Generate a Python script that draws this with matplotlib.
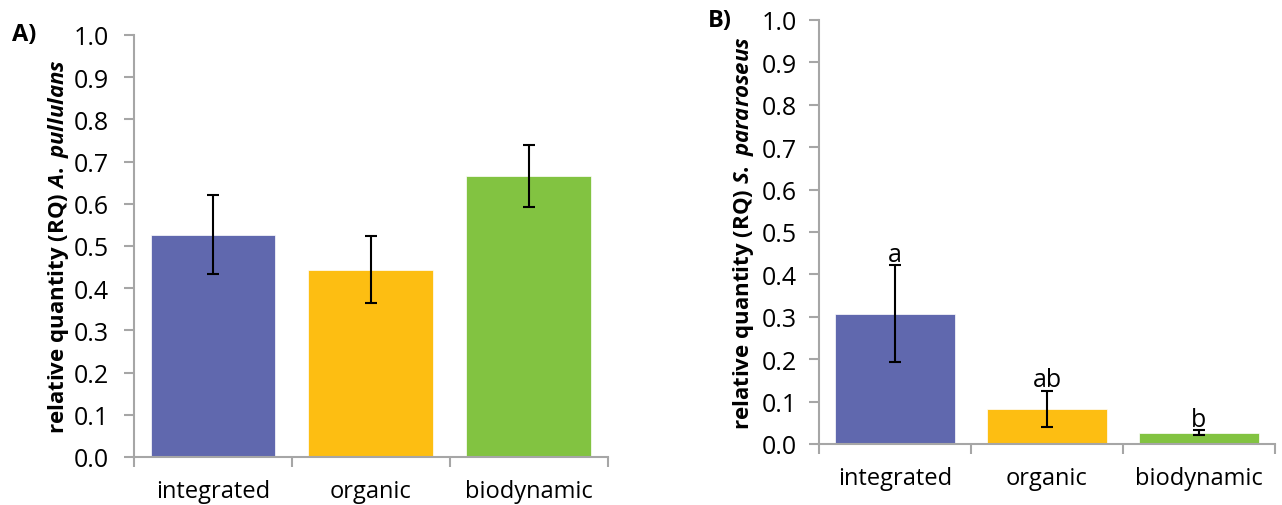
import numpy as np
import matplotlib.pyplot as plt

# treatments
categories = ['integrated', 'organic', 'biodynamic']
colors = ['#6068ae', '#fdbe12', '#82c341']

# panel A: A. pullulans
rq_a = [0.527, 0.444, 0.666]
err_a = [0.093, 0.079, 0.073]

# panel B: S. pararoseus
rq_b = [0.307, 0.083, 0.026]
err_b = [0.114, 0.043, 0.006]
letters_b = ['a', 'ab', 'b']

plt.rcParams['font.family'] = ['Open Sans', 'DejaVu Sans']
plt.rcParams['mathtext.fontset'] = 'custom'
plt.rcParams['mathtext.it'] = 'Open Sans:italic:bold'
plt.rcParams['mathtext.rm'] = 'Open Sans:bold'
axis_grey = '#a6a6a6'


def style_axes(ax, genus, species, tick_pad, ylabel_pad):
    x = np.arange(len(categories))
    ax.set_xlim(-0.5, len(categories) - 0.5)
    ax.set_ylim(0, 1.0)
    ax.set_yticks(np.arange(0, 1.01, 0.1))
    ax.set_yticklabels([f'{v:.1f}' for v in np.arange(0, 1.01, 0.1)])
    # boundary ticks between categories, labels in the middle
    ax.set_xticks(np.arange(-0.5, len(categories), 1.0))
    ax.set_xticklabels([])
    ax.set_xticks(x, minor=True)
    ax.set_xticklabels(categories, minor=True)
    ax.tick_params(axis='x', which='minor', length=0, pad=16, labelsize=17)
    ax.tick_params(axis='x', which='major', length=7, width=1.5, color=axis_grey, direction='out')
    ax.tick_params(axis='y', length=7, width=1.5, color=axis_grey, direction='out',
                   labelsize=18, pad=tick_pad)
    for side in ['top', 'right']:
        ax.spines[side].set_visible(False)
    for side in ['left', 'bottom']:
        ax.spines[side].set_color(axis_grey)
        ax.spines[side].set_linewidth(1.5)
    ax.set_ylabel('relative quantity (RQ) $\\it{' + genus + '}$ $\\it{' + species + '}$',
                  fontsize=16, fontweight='bold', labelpad=ylabel_pad)


fig = plt.figure(figsize=(12.82, 5.06), dpi=100)
ax_a = fig.add_axes([0.1045, 0.0949, 0.3695, 0.834])
ax_b = fig.add_axes([0.6388, 0.1206, 0.3557, 0.8379])

x = np.arange(len(categories))
ax_a.bar(x, rq_a, width=0.79, color=colors, edgecolor='white', linewidth=0.5)
ax_a.errorbar(x, rq_a, yerr=err_a, fmt='none', ecolor='black', elinewidth=1.5,
              capsize=4.5, capthick=1.5)
style_axes(ax_a, 'A.', 'pullulans', 11, 2)

ax_b.bar(x, rq_b, width=0.79, color=colors, edgecolor='white', linewidth=0.5)
ax_b.errorbar(x, rq_b, yerr=err_b, fmt='none', ecolor='black', elinewidth=1.5,
              capsize=4.5, capthick=1.5)
for xi, v, e, lab in zip(x, rq_b, err_b, letters_b):
    ax_b.text(xi, v + e + 0.01, lab, ha='center', va='baseline', fontsize=18)
style_axes(ax_b, 'S.', 'pararoseus', 9, 4)

fig.text(0.009, 0.93, 'A)', fontsize=17, fontweight='bold', va='center')
fig.text(0.552, 0.958, 'B)', fontsize=17, fontweight='bold', va='center')

fig.savefig('out.png', dpi=100)
